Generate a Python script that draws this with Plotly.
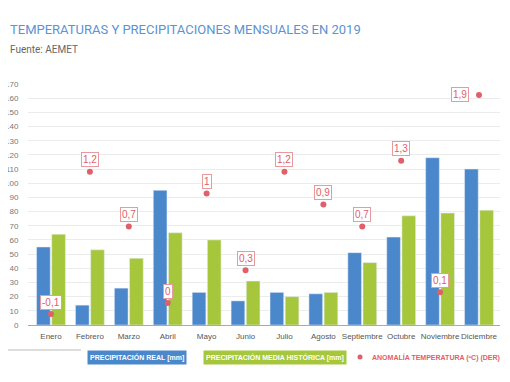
import plotly.graph_objects as go

meses = ["Enero", "Febrero", "Marzo", "Abril", "Mayo", "Junio", "Julio",
         "Agosto", "Septiembre", "Octubre", "Noviembre", "Diciembre"]
precip_real = [55, 14, 26, 95, 23, 17, 23, 22, 51, 62, 118, 110]
precip_media = [64, 53, 47, 65, 60, 31, 20, 23, 44, 77, 79, 81]
anomalia = [-0.1, 1.2, 0.7, 0, 1, 0.3, 1.2, 0.9, 0.7, 1.3, 0.1, 1.9]

BLUE = "#4a87cb"
GREEN = "#a6c73c"
RED = "#e0606a"
SANS = "'Liberation Sans', Arial, sans-serif"

L, T, W, H = 20, 76, 472, 241  # plot area in pixels


def px(x):
    return (x - L) / W


def py(y):
    return (T + H - y) / H


fig = go.Figure()
fig.add_trace(go.Bar(x=meses, y=precip_real, marker_color=BLUE, name="real",
                     hoverinfo="y"))
fig.add_trace(go.Bar(x=meses, y=precip_media, marker_color=GREEN, name="media",
                     hoverinfo="y"))
fig.add_trace(go.Scatter(x=meses, y=anomalia, yaxis="y2", mode="markers",
                         marker=dict(color=RED, size=6), name="anomalia"))

annotations = []
for i, (m, v) in enumerate(zip(meses, anomalia)):
    txt = (f"{v:g}").replace(".", ",")
    last = i == len(meses) - 1
    annotations.append(dict(
        x=m, y=v, xref="x", yref="y2", text=txt, showarrow=False,
        xshift=-19 if last else 0, yshift=0 if last else 12,
        font=dict(family=SANS, size=10, color=RED),
        bgcolor="white", bordercolor="#e89a9f", borderwidth=1, borderpad=1,
    ))

# title & source
annotations.append(dict(
    x=px(0), y=py(22), xref="paper", yref="paper", xanchor="left", yanchor="middle",
    text="TEMPERATURAS Y PRECIPITACIONES MENSUALES EN 2019", showarrow=False,
    font=dict(family="Roboto, sans-serif", size=13, color="#5b93d3")))
annotations.append(dict(
    x=px(0), y=py(41), xref="paper", yref="paper", xanchor="left", yanchor="middle",
    text="Fuente: AEMET", showarrow=False,
    font=dict(family="Roboto, sans-serif", size=10, color="#666666")))

# legend
annotations.append(dict(
    x=px(128.5), y=py(349), xref="paper", yref="paper", xanchor="center", yanchor="middle",
    text="<b>PRECIPITACIÓN REAL [mm]</b>", showarrow=False,
    bgcolor=BLUE, borderpad=2, font=dict(family=SANS, size=7, color="white")))
annotations.append(dict(
    x=px(267), y=py(349), xref="paper", yref="paper", xanchor="center", yanchor="middle",
    text="<b>PRECIPITACIÓN MEDIA HISTÓRICA [mm]</b>", showarrow=False,
    bgcolor=GREEN, borderpad=2, font=dict(family=SANS, size=7, color="white")))
annotations.append(dict(
    x=px(362), y=py(349), xref="paper", yref="paper", xanchor="left", yanchor="middle",
    text="<b>ANOMALÍA TEMPERATURA (ºC) (DER)</b>", showarrow=False,
    font=dict(family=SANS, size=7, color=RED)))

shapes = [
    dict(type="circle", xref="paper", yref="paper",
         x0=px(349.5), x1=px(354.5), y0=py(351.5), y1=py(346.5),
         fillcolor=RED, line=dict(width=0)),
    dict(type="line", xref="paper", yref="paper",
         x0=px(0), x1=px(73), y0=py(342), y1=py(342),
         line=dict(color="#bbbbbb", width=1)),
]

fig.update_layout(
    width=510, height=382,
    margin=dict(l=L, r=510 - L - W, t=T, b=382 - T - H, autoexpand=False),
    paper_bgcolor="white", plot_bgcolor="white",
    separators=",.",
    showlegend=False,
    barmode="group", bargap=0.22, bargroupgap=0.1,
    font=dict(family=SANS, size=8, color="#666666"),
    xaxis=dict(range=[-0.591, 11.54], showgrid=False, showline=True,
               linecolor="#aaaaaa", linewidth=1, ticks="outside", ticklen=3,
               tickcolor="rgba(0,0,0,0)", tickangle=0, automargin=False,
               tickfont=dict(family=SANS, size=8, color="#555555")),
    yaxis=dict(range=[0, 170], dtick=10, showgrid=True, gridcolor="#ececec",
               gridwidth=1, zeroline=False, ticks="outside", ticklen=7,
               tickcolor="rgba(0,0,0,0)", automargin=False,
               tickfont=dict(family=SANS, size=8, color="#777777")),
    yaxis2=dict(range=[-0.2, 2.0], dtick=0.2, overlaying="y", side="right",
                showgrid=False, zeroline=False, ticks="outside", ticklen=4,
                tickcolor="rgba(0,0,0,0)", automargin=False,
                tickfont=dict(family=SANS, size=8, color="#777777")),
    annotations=annotations,
    shapes=shapes,
)

fig.write_html("out.html")
